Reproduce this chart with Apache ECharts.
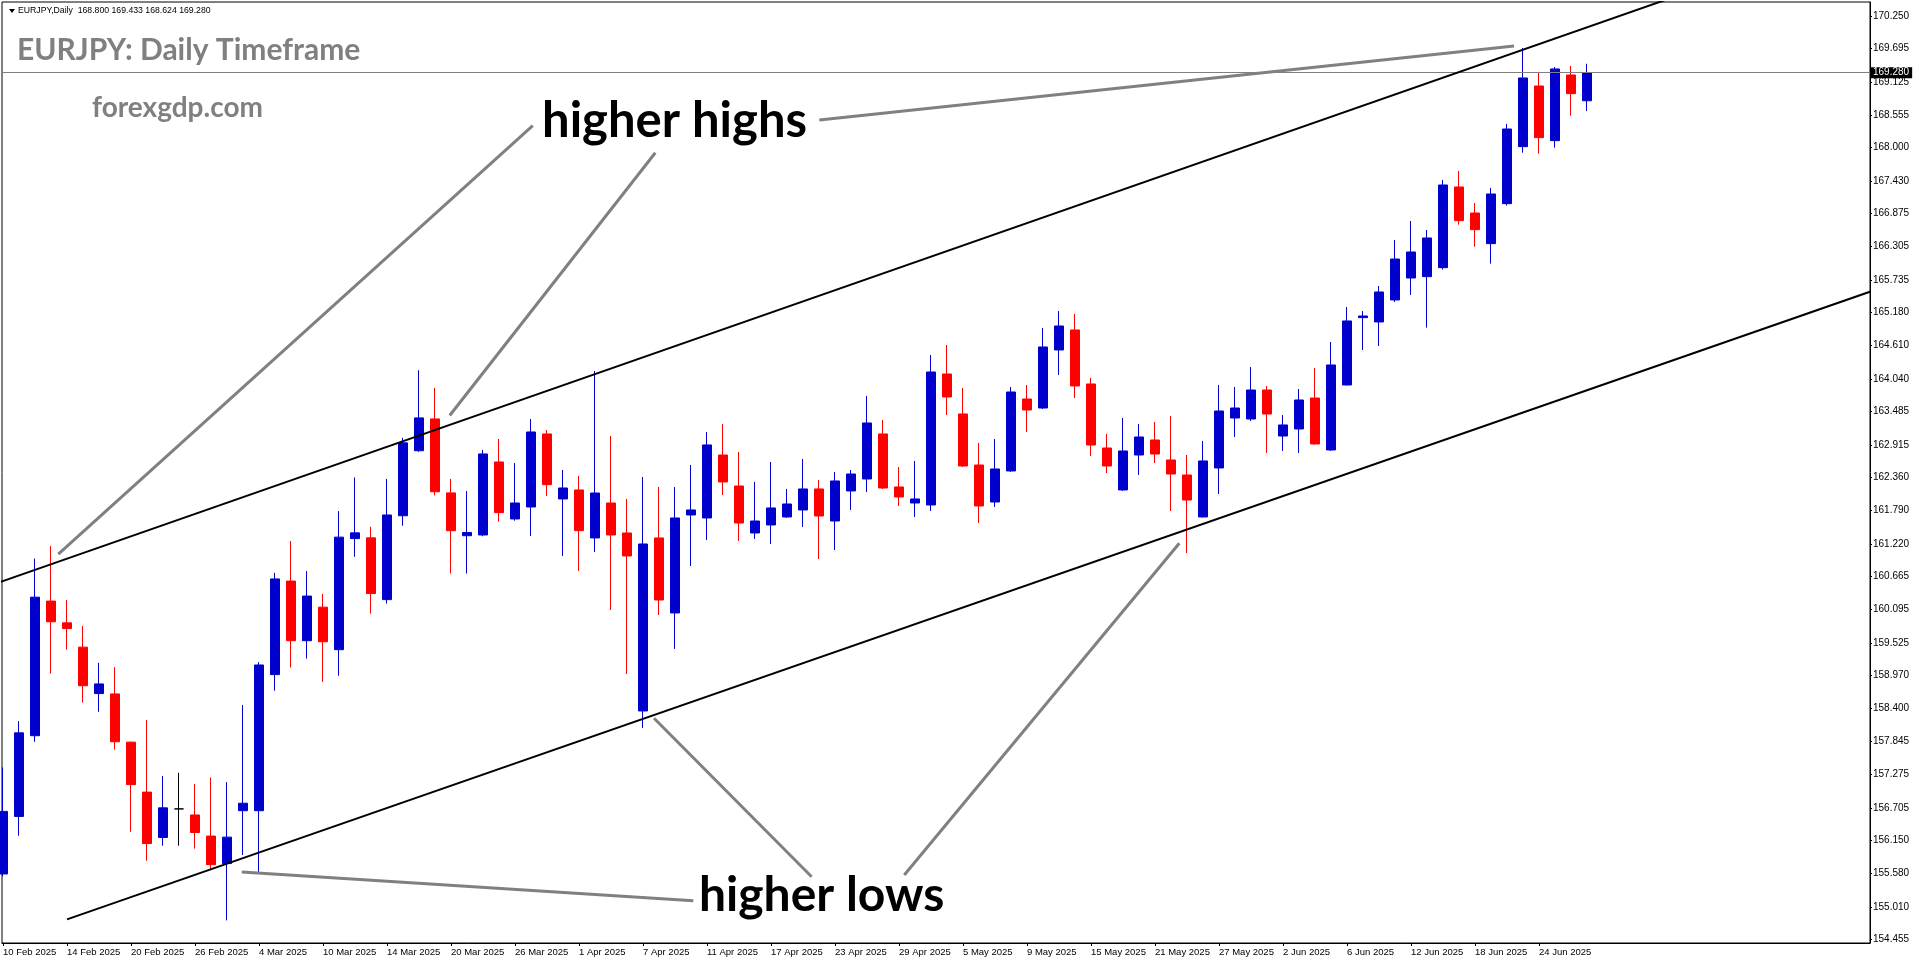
<!DOCTYPE html>
<html>
<head>
<meta charset="utf-8">
<script src="https://cdn.jsdelivr.net/npm/echarts@6.0.0/dist/echarts.min.js"></script>
<style>
  html, body { margin: 0; padding: 0; background: #fff; }
  #chart { width: 1916px; height: 964px; }
</style>
</head>
<body>
<div id="chart"></div>
<script>
// ---------- DATA ----------
const dates = [
  '10 Feb 2025','11 Feb 2025','12 Feb 2025','13 Feb 2025','14 Feb 2025','17 Feb 2025','18 Feb 2025','19 Feb 2025','20 Feb 2025','21 Feb 2025',
  '24 Feb 2025','25 Feb 2025','26 Feb 2025','27 Feb 2025','28 Feb 2025','3 Mar 2025','4 Mar 2025','5 Mar 2025','6 Mar 2025','7 Mar 2025',
  '10 Mar 2025','11 Mar 2025','12 Mar 2025','13 Mar 2025','14 Mar 2025','17 Mar 2025','18 Mar 2025','19 Mar 2025','20 Mar 2025','21 Mar 2025',
  '24 Mar 2025','25 Mar 2025','26 Mar 2025','27 Mar 2025','28 Mar 2025','31 Mar 2025','1 Apr 2025','2 Apr 2025','3 Apr 2025','4 Apr 2025',
  '7 Apr 2025','8 Apr 2025','9 Apr 2025','10 Apr 2025','11 Apr 2025','14 Apr 2025','15 Apr 2025','16 Apr 2025','17 Apr 2025','18 Apr 2025',
  '21 Apr 2025','22 Apr 2025','23 Apr 2025','24 Apr 2025','25 Apr 2025','28 Apr 2025','29 Apr 2025','30 Apr 2025','1 May 2025','2 May 2025',
  '5 May 2025','6 May 2025','7 May 2025','8 May 2025','9 May 2025','12 May 2025','13 May 2025','14 May 2025','15 May 2025','16 May 2025',
  '19 May 2025','20 May 2025','21 May 2025','22 May 2025','23 May 2025','26 May 2025','27 May 2025','28 May 2025','29 May 2025','30 May 2025',
  '2 Jun 2025','3 Jun 2025','4 Jun 2025','5 Jun 2025','6 Jun 2025','9 Jun 2025','10 Jun 2025','11 Jun 2025','12 Jun 2025','13 Jun 2025',
  '16 Jun 2025','17 Jun 2025','18 Jun 2025','19 Jun 2025','20 Jun 2025','23 Jun 2025','24 Jun 2025','25 Jun 2025','26 Jun 2025','27 Jun 2025'
];
const opens = [
  155.573,156.557,157.938,160.241,159.869,159.453,158.659,158.653,157.828,156.973,
  156.197,156.686,156.582,156.221,155.751,156.655,156.655,158.983,160.583,159.563,
  160.137,159.410,161.310,161.323,160.266,161.701,162.813,163.357,162.092,161.359,
  161.372,162.621,161.646,161.851,163.100,161.988,162.142,161.321,161.919,161.406,
  158.361,161.321,160.038,161.714,161.663,162.740,162.210,161.406,161.543,161.680,
  161.800,162.159,161.611,162.125,162.330,163.100,162.193,161.919,161.885,164.126,
  163.442,162.569,161.936,162.467,163.698,163.544,164.537,164.879,163.955,162.860,
  162.142,162.740,162.997,162.655,162.398,161.680,162.518,163.373,163.356,163.852,
  163.065,163.185,163.715,162.826,163.938,165.090,165.016,165.392,165.768,165.791,
  165.945,167.325,166.880,166.356,167.040,168.015,169.053,168.118,169.241,168.800
];
const closes = [
  156.643,157.987,160.308,159.887,159.771,158.793,158.824,157.834,157.101,156.093,
  156.704,156.686,156.282,155.732,156.203,156.783,159.148,160.620,159.563,160.327,
  159.545,161.335,161.408,160.370,161.714,162.948,163.375,162.111,161.445,161.414,
  162.758,161.754,161.919,163.134,162.233,162.176,161.446,162.090,161.372,161.013,
  161.218,160.260,161.663,161.800,162.912,162.279,161.577,161.611,161.834,161.902,
  162.159,161.697,162.296,162.415,163.288,162.176,162.022,161.988,164.160,163.733,
  162.552,161.868,162.501,163.818,163.510,164.588,164.947,163.921,162.911,162.552,
  162.809,163.048,162.757,162.415,161.970,162.638,163.493,163.544,163.852,163.442,
  163.254,163.681,162.929,164.280,165.033,165.118,165.529,166.093,166.213,166.453,
  167.359,166.749,166.595,167.205,168.317,169.190,168.169,169.344,168.922,169.280
];
const lows = [
  155.531,156.227,157.834,159.001,159.410,158.506,158.347,157.700,156.295,155.800,
  156.056,156.056,156.007,155.653,154.779,155.897,155.592,158.708,159.105,159.258,
  158.860,158.964,160.999,160.027,160.198,161.530,162.795,162.050,160.712,160.712,
  161.350,161.600,161.617,161.355,162.039,161.013,160.756,161.081,160.089,158.994,
  158.070,160.003,159.422,160.842,161.286,162.056,161.269,161.304,161.218,161.663,
  161.509,160.961,161.115,161.800,162.108,162.159,161.868,161.680,161.783,163.425,
  162.535,161.577,161.851,162.450,163.134,163.527,164.109,163.715,162.723,162.432,
  162.125,162.398,162.603,161.782,161.064,161.670,162.073,163.048,163.322,162.775,
  162.809,162.775,162.920,162.809,163.930,164.537,164.605,165.358,165.478,164.919,
  165.911,166.681,166.304,166.014,167.006,167.912,167.895,167.998,168.545,168.624
];
const highs = [
  157.394,158.188,160.968,161.182,160.260,159.814,159.184,159.111,157.835,158.207,
  157.248,157.303,157.113,157.223,157.144,158.463,159.197,160.724,161.268,160.754,
  160.363,161.781,162.355,161.512,162.331,163.033,164.190,163.889,162.331,162.123,
  162.826,163.014,162.604,163.356,163.168,162.484,162.381,164.177,163.065,161.988,
  162.364,162.193,162.193,162.569,163.134,163.271,162.792,162.279,162.621,162.159,
  162.672,162.313,162.450,162.484,163.750,163.339,162.535,162.638,164.451,164.622,
  163.886,162.946,163.014,163.904,163.938,164.913,165.204,165.152,164.058,163.100,
  163.373,163.271,163.305,163.407,162.740,162.980,163.938,163.904,164.246,163.921,
  163.425,163.869,164.229,164.673,165.272,165.204,165.631,166.418,166.743,166.589,
  167.445,167.599,167.051,167.308,168.403,169.703,169.275,169.378,169.395,169.433
];
// price axis labels (as printed on the chart)
const priceTicks = [170.250,169.695,169.125,168.555,168.000,167.430,166.875,166.305,165.735,165.180,
  164.610,164.040,163.485,162.915,162.360,161.790,161.220,160.665,160.095,159.525,
  158.970,158.400,157.845,157.275,156.705,156.150,155.580,155.010,154.455];
// date labels: every 4th bar
const dateTickIdx = [0,4,8,12,16,20,24,28,32,36,40,44,48,52,56,60,64,68,72,76,80,84,88,92,96];
const lastPrice = 169.280;
const headerText = 'EURJPY,Daily  168.800 169.433 168.624 169.280';
// channel lines [barIndex, price]
const upperChannel = [[-1, 160.487], [112, 171.300]];
const lowerChannel = [[4, 154.797], [117, 165.564]];
// annotation pointer lines [barIndex, price]
const highsPointers = [
  [[33.11, 168.373], [3.456, 161.046]],
  [[40.77, 167.911], [27.92, 163.416]],
  [[51.02, 168.471], [94.44, 169.737]]
];
const lowsPointers = [
  [[43.14, 155.116], [14.92, 155.606]],
  [[50.54, 155.526], [40.69, 158.236]],
  [[56.33, 155.555], [73.52, 161.230]]
];

// ---------- CHART ----------
const BLUE = '#0000CD', RED = '#FF0000', GRAY = '#808080';
const axisFont = "'Liberation Sans', Arial, sans-serif";

const candleData = dates.map((d, i) => {
  const v = [i, opens[i], closes[i], lows[i], highs[i]];
  if (opens[i] === closes[i]) {
    return { value: v, itemStyle: { color: '#000', color0: '#000', borderColor: '#000', borderColor0: '#000' } };
  }
  return v;
});

function lineSeries(pts, color, width, z) {
  return {
    type: 'line', data: pts, symbol: 'none', showSymbol: false, silent: true,
    lineStyle: { color: color, width: width }, z: z, clip: true, animation: false
  };
}

const series = [
  {
    type: 'candlestick',
    data: candleData,
    encode: { x: 0, y: [1, 2, 3, 4] },
    barWidth: 10,
    z: 3,
    itemStyle: { color: BLUE, color0: RED, borderColor: BLUE, borderColor0: RED, borderWidth: 1 },
    markLine: {
      silent: true, symbol: ['none', 'none'], animation: false,
      lineStyle: { color: GRAY, width: 1, type: 'solid' },
      label: {
        show: true, position: 'end', distance: 1,
        formatter: () => lastPrice.toFixed(3),
        backgroundColor: '#000', color: '#fff', fontSize: 10, fontFamily: axisFont,
        padding: [1, 3, 0, 2], lineHeight: 10
      },
      data: [{ yAxis: lastPrice }]
    }
  },
  lineSeries(upperChannel, '#000', 2, 5),
  lineSeries(lowerChannel, '#000', 2, 5)
];
highsPointers.concat(lowsPointers).forEach(p => series.push(lineSeries(p, GRAY, 3, 6)));

const chart = echarts.init(document.getElementById('chart'), null, { renderer: 'canvas' });
chart.setOption({
  animation: false,
  backgroundColor: '#fff',
  grid: { left: 2, top: 2, right: 46, bottom: 21, show: true, borderColor: '#000', borderWidth: 1, backgroundColor: 'transparent' },
  xAxis: {
    type: 'value', min: -0.0625, max: 116.6875,
    axisLine: { show: true, onZero: false, lineStyle: { color: '#000', width: 1 } },
    axisTick: { show: true, customValues: dateTickIdx, length: 3, lineStyle: { color: '#000' } },
    axisLabel: {
      show: true, customValues: dateTickIdx, formatter: v => dates[Math.round(v)] || '',
      align: 'left', margin: 4, fontSize: 9.5, color: '#000', fontFamily: axisFont
    },
    splitLine: { show: false }
  },
  yAxis: {
    type: 'value', position: 'right', min: 154.3919, max: 170.4895, scale: true,
    axisLine: { show: true, onZero: false, lineStyle: { color: '#000', width: 1 } },
    axisTick: { show: true, customValues: priceTicks, length: 2, lineStyle: { color: '#000' } },
    axisLabel: {
      show: true, customValues: priceTicks, formatter: v => Number(v).toFixed(3),
      margin: 3, fontSize: 10, color: '#000', fontFamily: axisFont
    },
    splitLine: { show: false }
  },
  series: series,
  graphic: [
    { type: 'polygon', shape: { points: [[9, 9], [15, 9], [12, 13]] }, style: { fill: '#000' }, z: 10 },
    { type: 'text', x: 18, y: 11, z: 10,
      style: { text: headerText, fill: '#000', font: "8.7px 'Liberation Sans', Arial, sans-serif",
               align: 'left', verticalAlign: 'middle', textAlign: 'left', textVerticalAlign: 'middle' } },
    { type: 'text', x: 17, y: 50, z: 10,
      style: { text: 'EURJPY: Daily Timeframe', fill: GRAY, font: "bold 30px Lato, 'Open Sans', sans-serif",
               align: 'left', verticalAlign: 'middle', textAlign: 'left', textVerticalAlign: 'middle' } },
    { type: 'text', x: 92, y: 108, z: 10,
      style: { text: 'forexgdp.com', fill: GRAY, font: "bold 28px Lato, 'Open Sans', sans-serif",
               align: 'left', verticalAlign: 'middle', textAlign: 'left', textVerticalAlign: 'middle' } },
    { type: 'text', x: 542, y: 121, z: 10,
      style: { text: 'higher highs', fill: '#000', font: "bold 49px Lato, 'Open Sans', sans-serif",
               align: 'left', verticalAlign: 'middle', textAlign: 'left', textVerticalAlign: 'middle' } },
    { type: 'text', x: 699, y: 896, z: 10,
      style: { text: 'higher lows', fill: '#000', font: "bold 48px Lato, 'Open Sans', sans-serif",
               align: 'left', verticalAlign: 'middle', textAlign: 'left', textVerticalAlign: 'middle' } }
  ]
});
</script>
</body>
</html>
